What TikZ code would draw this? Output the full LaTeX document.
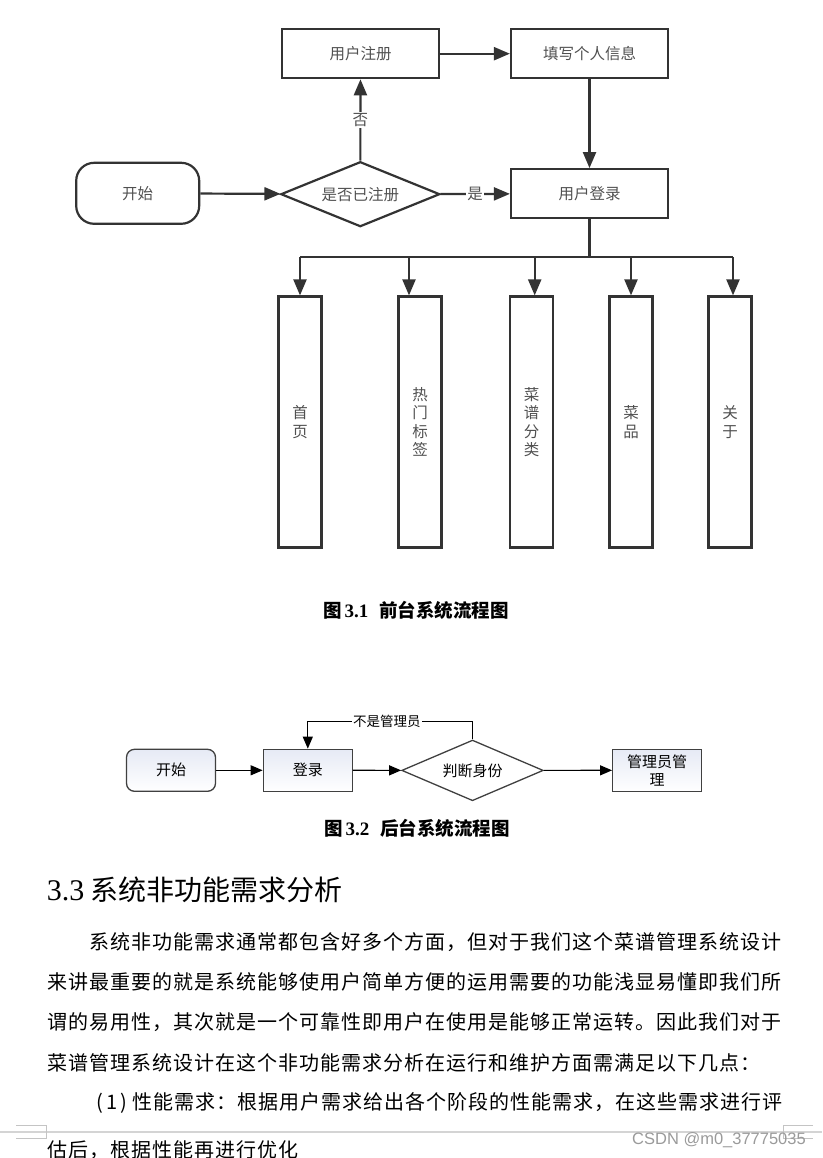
\documentclass[tikz,border=0pt]{standalone}
\usepackage{fontspec}
\setmainfont{Liberation Serif}
\setsansfont{Liberation Sans}
\newfontfamily\cjk{Noto Sans CJK SC}
\newfontfamily\cjkbody{Noto Sans CJK SC}[LetterSpace=5]
\usetikzlibrary{shapes.geometric,arrows.meta}
\definecolor{linegray}{HTML}{333333}
\definecolor{textgray}{HTML}{505050}
\definecolor{boxblue}{HTML}{E6EAF5}
\definecolor{pageline}{HTML}{D4D4D4}
\definecolor{markgray}{HTML}{C4C4C4}
\definecolor{wmgray}{HTML}{9A9A9A}
\begin{document}
\begin{tikzpicture}[x=1pt, y=-1pt,
  flowbox/.style={draw=linegray, line width=2.2pt, minimum width=157pt, minimum height=49pt, inner sep=0pt, text=textgray, font=\cjk\fontsize{15.5}{18.5}\selectfont},
  tallbox/.style={flowbox, minimum width=43pt, minimum height=251pt, align=center},
  arrowa/.style={draw=linegray, line width=2.2pt, -{Triangle[length=16pt,width=13pt]}},
  plainbox/.style={draw=black!75, line width=1.3pt, minimum width=89pt, minimum height=42pt, inner sep=0pt, align=center, top color=boxblue, bottom color=white, font=\cjk\fontsize{15}{18.5}\selectfont},
  arrowb/.style={draw=black, line width=1.2pt, -{Triangle[length=12pt,width=10pt]}},
  textline/.style={anchor=west, inner sep=0pt, font=\cjkbody\fontsize{20}{20}\selectfont}]
\useasboundingbox (0,0) rectangle (822,1158);

% front end
\node[flowbox] (reg) at (360.5,53.7) {用户注册};
\node[flowbox] (info) at (589.5,53.7) {填写个人信息};
\node[flowbox, minimum width=123pt, minimum height=61pt, rounded corners=18pt] (start1) at (137.7,193.3) {开始};
\node[flowbox, shape=diamond, shape aspect=2.4, minimum width=159pt, minimum height=65pt] (check) at (360.3,194.2) {是否已注册};
\node[flowbox] (login) at (589.5,193.7) {用户登录};
\node[tallbox] (home) at (300,422) {首\\页};
\node[tallbox] (tags) at (420,422) {热\\门\\标\\签};
\node[tallbox] (types) at (531.7,422) {菜\\谱\\分\\类};
\node[tallbox] (dish) at (631,422) {菜\\品};
\node[tallbox] (about) at (730,422) {关\\于};
\coordinate (fork) at (589.5,257.3);

\draw[arrowa] (start1) -- (check);
\draw[arrowa] (check) -- node[fill=white, inner sep=1pt, text=textgray, font=\cjk\fontsize{15.5}{18}\selectfont] {否} (reg);
\draw[arrowa] (reg) -- (info);
\draw[arrowa] (info) -- (login);
\draw[arrowa] (check) -- node[fill=white, inner sep=1pt, text=textgray, font=\cjk\fontsize{15.5}{18}\selectfont] {是} (login);
\draw[draw=linegray, line width=2.2pt] (login.south) -- (fork);
\draw[draw=linegray, line width=2.2pt] (home.north |- fork) -- ([xshift=3pt]about.north |- fork);
\draw[arrowa] (home.north |- fork) -- (home.north);
\draw[arrowa] ([xshift=-11pt]tags.north |- fork) -- ([xshift=-11pt]tags.north);
\draw[arrowa] ([xshift=3pt]types.north |- fork) -- ([xshift=3pt]types.north);
\draw[arrowa] (dish.north |- fork) -- (dish.north);
\draw[arrowa] ([xshift=3pt]about.north |- fork) -- ([xshift=3pt]about.north);

\node[font=\cjk\bfseries\fontsize{18.5}{20}\selectfont, anchor=west, inner sep=0pt] (cap1) at (323,610) {图\hspace{3pt}{\rmfamily\bfseries\fontsize{19}{20}\selectfont 3.1}\hspace{11pt}前台系统流程图};

% back end
\node[plainbox, rounded corners=8pt] (start2) at (171,770.3) {开始};
\node[plainbox] (login2) at (307.8,770.3) {登录};
\node[plainbox, shape=diamond, shape aspect=2.3, minimum width=141.6pt, minimum height=60.7pt, top color=white, bottom color=white] (judge) at (472.5,770.4) {判断身份};
\node[plainbox] (admin) at (657.2,770.3) {管理员管\\理};
\coordinate (loop) at (472.5,721.7);

\draw[arrowb] (start2) -- (login2);
\draw[arrowb] (login2) -- (judge);
\draw[arrowb] (judge) -- (admin);
\draw[arrowb] (judge.north) -- (loop) -| node[pos=0.26, fill=white, inner sep=1pt, font=\cjk\fontsize{13.5}{15}\selectfont] {不是管理员} (login2.north);

\node[font=\cjk\bfseries\fontsize{18.5}{20}\selectfont, anchor=west, inner sep=0pt] (cap2) at (324,828) {图\hspace{3pt}{\rmfamily\bfseries\fontsize{19}{20}\selectfont 3.2}\hspace{11pt}后台系统流程图};

% text
\node[anchor=west, inner sep=0pt, font=\cjk\fontsize{28}{30}\selectfont] (head) at (46.7,890) {{\rmfamily\fontsize{30}{30}\selectfont 3.3}\hspace{6pt}系统非功能需求分析};
\node[textline] (line1) at (89,941.7) {系统非功能需求通常都包含好多个方面，但对于我们这个菜谱管理系统设计};
\node[textline] (line2) at (47,981.7) {来讲最重要的就是系统能够使用户简单方便的运用需要的功能浅显易懂即我们所};
\node[textline] (line3) at (47,1022.5) {谓的易用性，其次就是一个可靠性即用户在使用是能够正常运转。因此我们对于};
\node[textline] (line4) at (47,1063) {菜谱管理系统设计在这个非功能需求分析在运行和维护方面需满足以下几点：};
\node[textline] (line5) at (89,1102.7) {\makebox[43pt][r]{(\hspace{3pt}1\hspace{3pt})\hspace{5pt}}性能需求：根据用户需求给出各个阶段的性能需求，在这些需求进行评};
\node[textline] (line6) at (47,1150) {估后，根据性能再进行优化};

% page break
\draw[pageline, line width=1.2pt] (0,1132) -- (822,1132);
\draw[markgray, line width=1pt] (16,1125) -- (46,1125) -- (46,1138) -- (16,1138);
\draw[markgray, line width=1pt] (813,1125) -- (783,1125) -- (783,1138) -- (813,1138);
\node[anchor=east, inner sep=0pt, text=wmgray, font=\sffamily\fontsize{16.5}{18}\selectfont] (mark) at (806,1140) {CSDN @m0\_37775035};
\end{tikzpicture}
\end{document}
